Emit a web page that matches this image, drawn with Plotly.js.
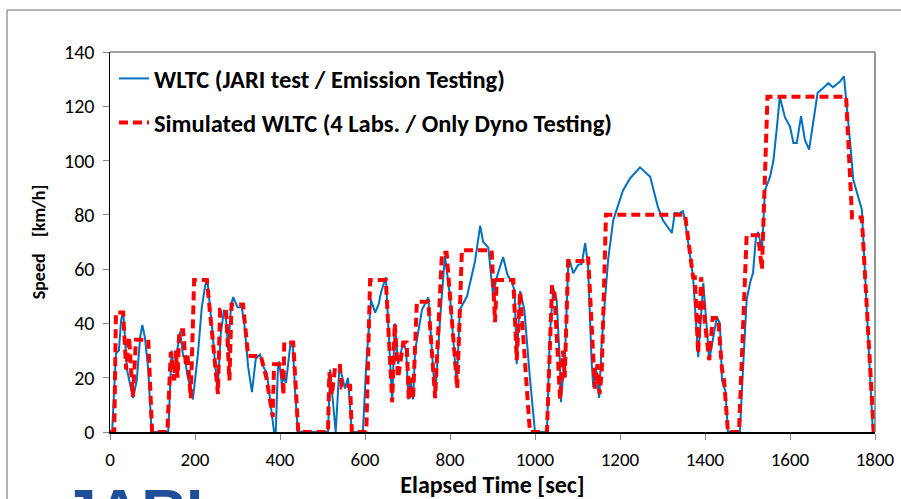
<!DOCTYPE html>
<html>
<head>
<meta charset="utf-8">
<script src="https://cdn.plot.ly/plotly-3.0.1.min.js"></script>
<style>html,body{margin:0;padding:0;background:#fff;}#chart{width:901px;height:499px;}</style>
</head>
<body>
<div id="chart"></div>
<script>
// Measured WLTC (JARI test) - time [s] and speed [km/h]
var tMeasured = [0,5,14,21,26,31,40,54,63,71,76,82,90,98,137,143,145,150,158,165,172,176,182,195,207,216,224,229,240,253,260,268,273,278,285,290,300,310,316,322,325,334,343,353,361,369,378,386,390,395,398,404,409,414,425,430,436,442,513,518,524,531,540,553,560,569,595,603,614,624,632,638,649,664,670,678,690,697,702,707,713,718,734,749,765,776,788,800,816,823,840,851,859,871,878,890,901,912,925,935,946,952,957,965,975,988,1000,1028,1035,1043,1051,1059,1061,1071,1078,1082,1090,1101,1110,1118,1125,1133,1137,1143,1151,1157,1165,1172,1184,1207,1224,1247,1271,1278,1289,1301,1313,1322,1329,1339,1348,1353,1372,1384,1396,1410,1428,1435,1440,1448,1454,1482,1490,1498,1506,1513,1520,1525,1534,1541,1553,1561,1569,1576,1588,1600,1608,1616,1626,1635,1645,1655,1665,1678,1690,1701,1717,1727,1733,1741,1749,1769,1795,1800];
var vMeasured = [0,0,29,30,41,44.6,23,12.5,19,35,39.4,35,23,0,0,20,30,22,31,37,28,27.6,21,12,29,46,54,56,38.7,14.4,35,45,42,30,47,49.7,46,46,40,30,24,14.7,27,28.5,24,21.7,10.7,0,0,23,26,18,20,18,33,32,14,0,0,23,12,0,24.5,16,20,0,0,25,48.6,44,47,51.6,57,11,40,25,33,30,12,19,12,30,45,49.6,12.5,40,65,50,17,45,50,57,63,76,70,68,51,58,64.5,58,55,52,25,52,45,20,0,0,36,53,48.6,24,11,30,61,63,58.5,61.5,62,69.6,61,26.5,16.6,24,12.5,33,48.6,63.4,78,89,93.5,97.5,94,90,83,78,75.5,73.3,80.7,80.5,81.4,78,57,27.6,55,26.5,42.4,40,19,15,0,0,25,48.6,55,58.6,72,73.7,67,89,94,100,112,123.5,116,112.5,106.5,106.5,116.4,107.6,104,114,125,126.7,128.5,127,129,131,122,107.5,92.8,82,0,0];

// Simulated WLTC (4 Labs.) - time [s] and speed [km/h]
var tSimulated = [0,10,14,31,38,45,50,54,61,90,99,135,143,151,155,159,163,172,179,182,190,198,228,254,259,273,281,286,313,325,355,368,383,386,404,408,410,431,443,513,516,522,530,541,545,550,565,569,603,612,649,664,670,678,690,698,703,707,713,722,749,765,781,792,817,828,898,906,910,949,957,965,988,1028,1040,1045,1059,1066,1070,1078,1120,1125,1141,1147,1152,1157,1167,1353,1372,1376,1384,1391,1400,1410,1418,1431,1440,1445,1454,1480,1498,1525,1534,1547,1732,1746,1769,1797];
var vSimulated = [0,0,44,44,23,35,22,13,34,34,0,0,29.5,19,30,20,37.5,37.5,24,29,12.5,56,56,14,45,45,19,47,47,28,28,20,5.5,25,25,13.6,33,33,0,0,22,13.6,24.3,24.3,16.6,17,17,0,0,56,56,11,40,20,33,33,12,20,12,48,48,12.5,66,66,16,67,67,40.5,56,56,26.5,51.6,0,0,53.4,53.4,12,30,20,63,63,64.5,16,25,14,22,80,80,57,57,29,57,40,26.5,42,42,23,19,0,0,72.5,72.5,60,123.5,123.5,79,79,0];

var seriesNames = ["WLTC (JARI test / Emission Testing)", "Simulated WLTC (4 Labs. / Only Dyno Testing)"];

var FONT = "Carlito, 'Liberation Sans Narrow', 'Arial Narrow', 'Liberation Sans', sans-serif";

var traces = [
  {x: tMeasured, y: vMeasured, type: 'scatter', mode: 'lines', name: seriesNames[0],
   line: {color: '#0070C0', width: 2}, legend: 'legend'},
  {x: tSimulated, y: vSimulated, type: 'scatter', mode: 'lines', name: seriesNames[1],
   line: {color: '#FF0000', width: 4, dash: '9px,5px'}, legend: 'legend2'}
];

// plot area px: left 110, right 875, top 52, bottom 432
function px2x(p){ return (p-110)/765; }
function px2y(p){ return (432-p)/380; }

var layout = {
  width: 901, height: 499,
  margin: {l: 110, r: 26, t: 52, b: 67},
  paper_bgcolor: '#fff', plot_bgcolor: '#fff',
  font: {family: FONT, color: '#000'},
  showlegend: true,
  legend: {x: px2x(114), y: px2y(56), xanchor: 'left', yanchor: 'top', bgcolor: 'rgba(0,0,0,0)',
    font: {family: FONT, size: 24.5, color: '#000', weight: 'bold'}, itemwidth: 30},
  legend2: {x: px2x(114), y: px2y(100), xanchor: 'left', yanchor: 'top', bgcolor: 'rgba(0,0,0,0)',
    font: {family: FONT, size: 24.5, color: '#000', weight: 'bold'}, itemwidth: 30},
  xaxis: {range: [0, 1800], dtick: 200, tick0: 0, showgrid: false, zeroline: false,
    showline: true, linecolor: '#000', linewidth: 1.5, mirror: false,
    ticks: 'outside', ticklen: 6, tickcolor: '#888', tickwidth: 1, ticklabelstandoff: 4,
    tickfont: {family: FONT, size: 19, color: '#000'},
    title: {text: 'Elapsed Time [sec]', font: {family: FONT, size: 24, color: '#000', weight: 'bold'}, standoff: 8}},
  yaxis: {range: [0, 140], dtick: 20, tick0: 0, showgrid: false, zeroline: false,
    showline: true, linecolor: '#000', linewidth: 1.5,
    ticks: 'outside', ticklen: 6, tickcolor: '#888', tickwidth: 1, ticklabelstandoff: 4,
    tickfont: {family: FONT, size: 20, color: '#000'},
    title: {text: 'Speed&nbsp;&nbsp;&nbsp;&nbsp;[km/h]', font: {family: FONT, size: 18, color: '#000', weight: 'bold'}, standoff: 14}},
  shapes: [
    // plot-area box top and right
    {type: 'line', xref: 'paper', yref: 'paper', x0: 0, x1: 1, y0: 1, y1: 1, line: {color: '#444', width: 1}},
    {type: 'line', xref: 'paper', yref: 'paper', x0: 1, x1: 1, y0: 0, y1: 1, line: {color: '#777', width: 1.5}},
    // outer chart frame
    {type: 'line', xref: 'paper', yref: 'paper', x0: px2x(7), x1: px2x(905), y0: px2y(10), y1: px2y(10), line: {color: '#999', width: 1.5}},
    {type: 'line', xref: 'paper', yref: 'paper', x0: px2x(7), x1: px2x(7), y0: px2y(10), y1: px2y(505), line: {color: '#999', width: 1.5}}
  ],
  annotations: [
    {text: 'JARI', xref: 'paper', yref: 'paper', x: px2x(60), y: px2y(474), xanchor: 'left', yanchor: 'top',
     showarrow: false, font: {family: "'Liberation Sans', Arial, sans-serif", size: 62, color: '#1F4E9A', weight: 'bold'}}
  ]
};

Plotly.newPlot('chart', traces, layout, {displayModeBar: false, staticPlot: true});
</script>
</body>
</html>
